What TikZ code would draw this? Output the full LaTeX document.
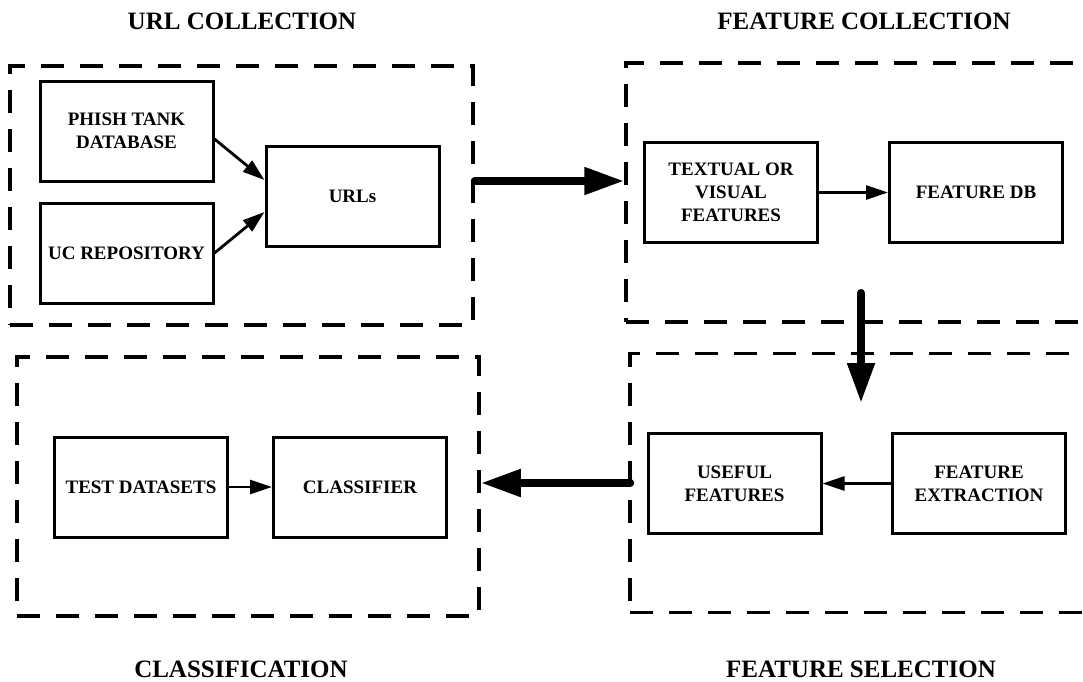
\documentclass[tikz,border=0pt]{standalone}
\usepackage{fontspec}
\setmainfont{Liberation Serif}
\usetikzlibrary{arrows.meta}

\begin{document}
\begin{tikzpicture}[x=1pt, y=-1pt,
    blk/.style={draw, line width=3pt, minimum width=173pt, minimum height=100pt,
        inner sep=2pt, align=center, font=\fontsize{19}{23}\selectfont\bfseries},
    grp/.style={draw, line width=3.5pt, dash pattern=on 23pt off 16pt, minimum height=259pt},
    ttl/.style={font=\fontsize{25}{28}\selectfont\bfseries},
    thin/.style={line width=2.8pt, -{Triangle[length=22pt,width=14pt]}},
    thick/.style={line width=8pt, line cap=round, -{Triangle[length=40pt,width=26pt]}}]
            \useasboundingbox (0,0) rectangle (1083,681);
            \clip (0,0) rectangle (1083,681);
            % dashed groups
            \node[grp, minimum width=463pt] (urlgrp) at (241.5,195.5) {};
            \node[grp, minimum width=484pt] (featgrp) at (868,192.5) {};
            \node[grp, minimum width=462pt] (clsgrp) at (248,486.5) {};
            \node[grp, minimum width=480pt] (selgrp) at (870,483) {};
            % titles
            \node[ttl] (urlttl) at (242,21) {URL COLLECTION};
            \node[ttl] (featttl) at (864,21) {FEATURE COLLECTION};
            \node[ttl] (clsttl) at (241,669) {CLASSIFICATION};
            \node[ttl] (selttl) at (861,669) {FEATURE SELECTION};
            % blocks
            \node[blk] (phish) at (126.5,131) {PHISH TANK\\DATABASE};
            \node[blk] (uc) at (126.5,253) {UC REPOSITORY};
            \node[blk] (urls) at (352.5,196) {URLs};
            \node[blk] (textual) at (731,192.5) {TEXTUAL OR\\VISUAL\\FEATURES};
            \node[blk] (featdb) at (976,192.5) {FEATURE DB};
            \node[blk] (test) at (141,487) {TEST DATASETS};
            \node[blk] (classifier) at (360,487) {CLASSIFIER};
            \node[blk] (useful) at (734.5,483.5) {USEFUL\\FEATURES};
            \node[blk] (extract) at (979,483.5) {FEATURE\\EXTRACTION};
            % inner arrows
            \draw[thin] ([yshift=-8pt]phish.east) -- ([yshift=16pt]urls.west);
            \draw[thin] (uc.east) -- ([yshift=-16pt]urls.west);
            \draw[thin] (textual.east) -- (featdb.west);
            \draw[thin] (test.east) -- (classifier.west);
            \draw[thin] (extract.west) -- (useful.east);
            % flow between groups
            \coordinate (a1) at ([yshift=14.5pt]urlgrp.east);
            \draw[thick] (a1) -- (a1 -| featgrp.west);
            \coordinate (d1) at (861,293);
            \coordinate (d2) at (861,403);
            \draw[thick] (d1) -- (d2);
            \draw[thick] ([xshift=2pt]selgrp.west) -- (selgrp.west -| clsgrp.east);
\end{tikzpicture}
\end{document}
